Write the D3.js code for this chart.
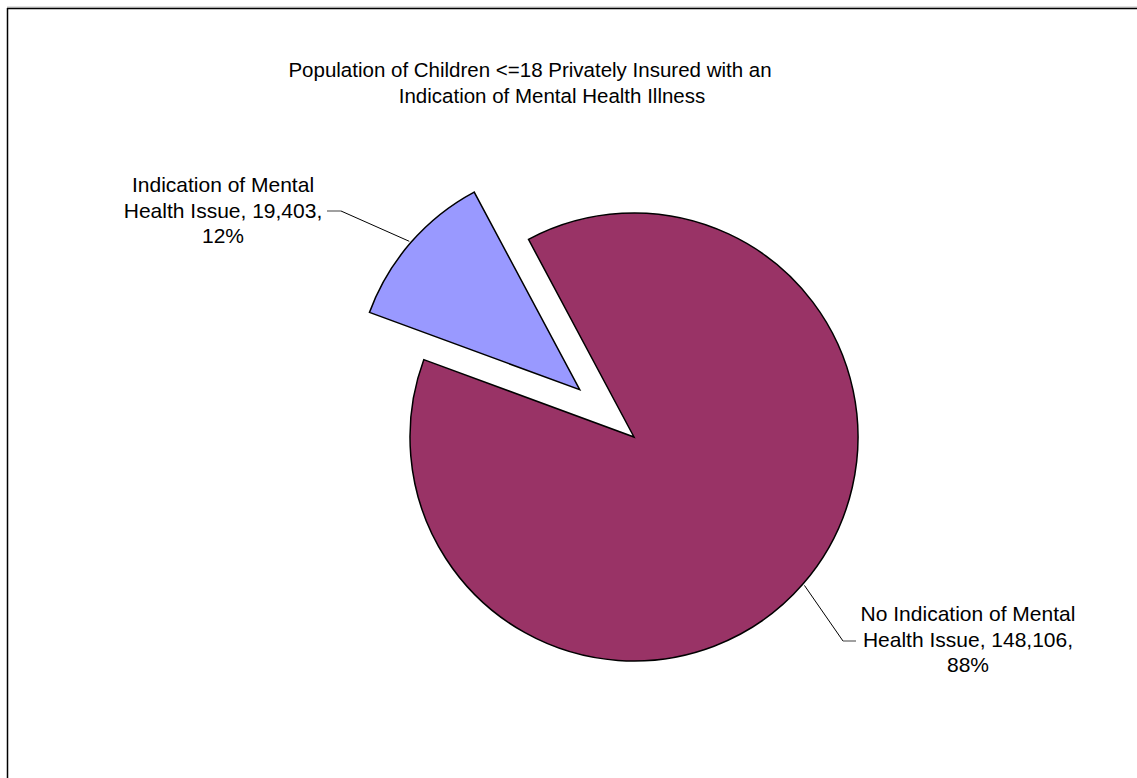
<!DOCTYPE html>
<html>
<head>
<meta charset="utf-8">
<script src="https://cdn.jsdelivr.net/npm/d3@7"></script>
<style>
  html, body { margin: 0; padding: 0; background: #fff; }
  svg { display: block; }
  text { font-family: 'Liberation Sans', Arial, sans-serif; fill: #000; }
</style>
</head>
<body>
<svg id="chart" width="1137" height="778"></svg>
<script>
// data
const categories = ['No Indication of Mental Health Issue', 'Indication of Mental Health Issue']
const values = [148106, 19403]
const colors = ['#993366', '#9999ff']
const titleLines = ['Population of Children <=18 Privately Insured with an', 'Indication of Mental Health Illness']

const width = 1137
const height = 778
const cx = 634
const cy = 437
const radius = 224
const explode = [0, 72]
const startDeg = 331.9
const titleX = [530, 552]

const svg = d3.select('#chart')

// frame
svg.append('line')
  .attr('x1', 7).attr('x2', width).attr('y1', 7).attr('y2', 7)
  .attr('stroke', '#c0c0c0').attr('stroke-width', 1)
svg.append('line')
  .attr('x1', 7).attr('x2', width).attr('y1', 8.5).attr('y2', 8.5)
  .attr('stroke', '#000').attr('stroke-width', 1.5)
svg.append('line')
  .attr('x1', 7.5).attr('x2', 7.5).attr('y1', 8).attr('y2', height)
  .attr('stroke', '#000').attr('stroke-width', 1.5)

// title
svg.append('text')
  .attr('text-anchor', 'middle')
  .style('font-size', '20.5px')
  .selectAll('tspan')
  .data(titleLines)
  .enter()
  .append('tspan')
    .attr('x', (d, i) => titleX[i])
    .attr('y', (d, i) => 77 + i * 26)
    .text(d => d)

const total = d3.sum(values)
const fmt = d3.format(',')
const start = startDeg * Math.PI / 180

const pie = d3.pie()
  .sort(null)
  .value(d => d)
  .startAngle(start)
  .endAngle(start + 2 * Math.PI)

const arc = d3.arc().innerRadius(0).outerRadius(radius)
const arcs = pie(values)

const g = svg.append('g').attr('transform', `translate(${cx},${cy})`)

function offset (d, r) {
  const a = (d.startAngle + d.endAngle) / 2
  return [Math.sin(a) * r, -Math.cos(a) * r]
}

g.selectAll('.slice')
  .data(arcs)
  .enter()
  .append('path')
    .attr('class', 'slice')
    .attr('transform', (d, i) => {
      const [dx, dy] = offset(d, explode[i])
      return `translate(${dx},${dy})`
    })
    .attr('fill', (d, i) => colors[i])
    .attr('stroke', '#000')
    .attr('stroke-width', 1.5)
    .attr('d', arc)

// label placement: centre x, first baseline, elbow, tick end
const labelPos = [
  { x: 968, y: 621, ex: 843, ey: 641, tx: 856 },
  { x: 223, y: 192, ex: 341, ey: 211, tx: 327 }
]

arcs.forEach((d, i) => {
  const [ox, oy] = offset(d, explode[i])
  const [ax, ay] = offset(d, radius + 2)
  const p = labelPos[i]
  const pct = Math.round(values[i] / total * 100) + '%'
  // Excel wraps "<name>, <value>, <pct>" after "Mental"
  const name = categories[i]
  const cut = name.indexOf(' Health')
  const lines = [name.slice(0, cut), name.slice(cut + 1) + ', ' + fmt(values[i]) + ',', pct]

  svg.append('line')
    .attr('x1', cx + ox + ax).attr('y1', cy + oy + ay)
    .attr('x2', p.ex).attr('y2', p.ey)
    .attr('stroke', '#000').attr('stroke-width', 1)
  svg.append('line')
    .attr('x1', p.ex).attr('y1', p.ey)
    .attr('x2', p.tx).attr('y2', p.ey)
    .attr('stroke', '#808080').attr('stroke-width', 1.5)

  svg.append('text')
    .attr('text-anchor', 'middle')
    .style('font-size', '21px')
    .selectAll('tspan')
    .data(lines)
    .enter()
    .append('tspan')
      .attr('x', p.x)
      .attr('y', (t, k) => p.y + k * 25.5)
      .text(t => t)
})
</script>
</body>
</html>
